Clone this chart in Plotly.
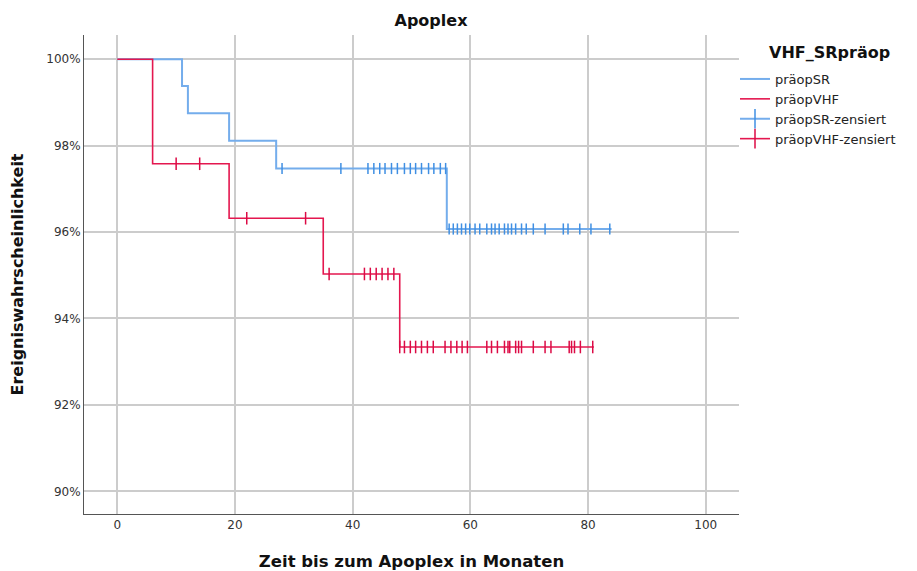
import plotly.graph_objects as go

# ---- data ----
sr_time = [0, 11, 12, 19, 27, 56, 84]
sr_surv = [100, 99.38, 98.75, 98.11, 97.47, 96.07, 96.07]
sr_cens_time = [28, 38, 42.6, 43.6, 44.6, 45.5, 46.6, 47.6, 48.8, 49.8, 50.7, 51.7, 52.9, 53.8, 54.9,
                55.8, 56.4, 57.1, 57.8, 58.5, 59.2, 59.9, 60.8, 61.6, 62.8, 63.6, 64.2, 64.9, 65.8,
                66.4, 67.0, 67.7, 68.7, 69.5, 70.7, 72.7, 75.8, 76.6, 78.6, 80.5, 83.7]

vhf_time = [0, 6, 19, 35, 48, 81]
vhf_surv = [100, 97.58, 96.32, 95.03, 93.34, 93.34]
vhf_cens_time = [10, 14, 22, 32, 36, 42, 43, 44, 45, 46, 47,
                 48, 48.8, 49.8, 50.7, 51.7, 52.7, 53.7, 55.7, 56.7, 57.7, 58.6, 59.5,
                 62.8, 63.6, 64.6, 65.8, 66.4, 66.7, 67.7, 68.2, 68.7, 70.7, 72.7, 73.7,
                 76.8, 77.2, 77.7, 78.7, 80.8]


def surv_at(times, survs, t):
    v = survs[0]
    for ti, si in zip(times, survs):
        if ti <= t:
            v = si
    return v


sr_cens_y = [surv_at(sr_time, sr_surv, t) for t in sr_cens_time]
vhf_cens_y = [surv_at(vhf_time, vhf_surv, t) for t in vhf_cens_time]

x_ticks = [0, 20, 40, 60, 80, 100]
y_ticks = [90, 92, 94, 96, 98, 100]
labels = ["präopSR", "präopVHF", "präopSR-zensiert", "präopVHF-zensiert"]

BLUE = "#74adec"
BLUE_D = "#3f8fe3"
RED = "#e4174f"
RED_D = "#dc0a45"
FONT = "DejaVu Sans"

fig = go.Figure()
fig.add_trace(go.Scatter(x=sr_time, y=sr_surv, mode="lines", line=dict(color=BLUE, width=2, shape="hv"),
                         name=labels[0]))
fig.add_trace(go.Scatter(x=vhf_time, y=vhf_surv, mode="lines", line=dict(color=RED, width=1.6, shape="hv"),
                         name=labels[1]))
fig.add_trace(go.Scatter(x=sr_cens_time, y=sr_cens_y, mode="markers",
                         marker=dict(symbol="line-ns", size=8, line=dict(color=BLUE_D, width=1.5)),
                         showlegend=False, hoverinfo="x+y"))
fig.add_trace(go.Scatter(x=vhf_cens_time, y=vhf_cens_y, mode="markers",
                         marker=dict(symbol="line-ns", size=9, line=dict(color=RED_D, width=1.5)),
                         showlegend=False, hoverinfo="x+y"))
# legend entries for censored marks
fig.add_trace(go.Scatter(x=[None], y=[None], mode="lines+markers", line=dict(color=BLUE, width=2),
                         marker=dict(symbol="line-ns", size=14, line=dict(color=BLUE_D, width=1.5)),
                         name=labels[2]))
fig.add_trace(go.Scatter(x=[None], y=[None], mode="lines+markers", line=dict(color=RED, width=1.6),
                         marker=dict(symbol="line-ns", size=14, line=dict(color=RED_D, width=1.5)),
                         name=labels[3]))

# page body has an 8px margin: figure origin sits at (8, 8) on screen
W, H = 909, 563
L, T, R, B = 76, 27, 731, 506
PW = R - L
PH = B - T
fig.update_layout(
    width=W, height=H,
    margin=dict(l=L, r=W - R, t=T, b=H - B, autoexpand=False),
    paper_bgcolor="white", plot_bgcolor="white",
    font=dict(family=FONT, size=11, color="#333333"),
    title=dict(text="<b>Apoplex</b>", x=423 / W, xanchor="center", y=1 - 12 / H, yanchor="middle",
               font=dict(family=FONT, size=16, color="#111111")),
    showlegend=True,
    legend=dict(x=1 - 4 / PW, xanchor="left", xref="paper", y=1 - 29 / PH, yanchor="top",
                font=dict(family=FONT, size=13, color="#222222"), itemwidth=30,
                tracegroupgap=0, bgcolor="rgba(0,0,0,0)"),
    annotations=[dict(text="<b>VHF_SRpräop</b>", xref="paper", yref="paper",
                      x=(821 - L) / PW, y=1 - 17 / PH, xanchor="center", yanchor="middle",
                      showarrow=False, font=dict(family=FONT, size=16, color="#111111"))],
)
fig.update_xaxes(range=[-5.66, 105.66], tickvals=x_ticks, ticktext=[str(v) for v in x_ticks],
                 showgrid=True, gridcolor="#cccccc", gridwidth=1.5, zeroline=False,
                 showline=True, linecolor="#555555", linewidth=1, ticks="", automargin=False,
                 tickfont=dict(size=12, color="#333333"),
                 title=dict(text="<b>Zeit bis zum Apoplex in Monaten</b>", standoff=26,
                            font=dict(family=FONT, size=16.5, color="#111111")))
fig.update_yaxes(range=[89.475, 100.56], tickvals=y_ticks, ticktext=[f"{v}%" for v in y_ticks],
                 showgrid=True, gridcolor="#cccccc", gridwidth=1.5, zeroline=False,
                 showline=True, linecolor="#555555", linewidth=1, ticks="", automargin=False,
                 tickfont=dict(size=12, color="#333333"),
                 title=dict(text="<b>Ereigniswahrscheinlichkeit</b>", standoff=18,
                            font=dict(family=FONT, size=16, color="#111111")))

fig.write_html("out.html")
